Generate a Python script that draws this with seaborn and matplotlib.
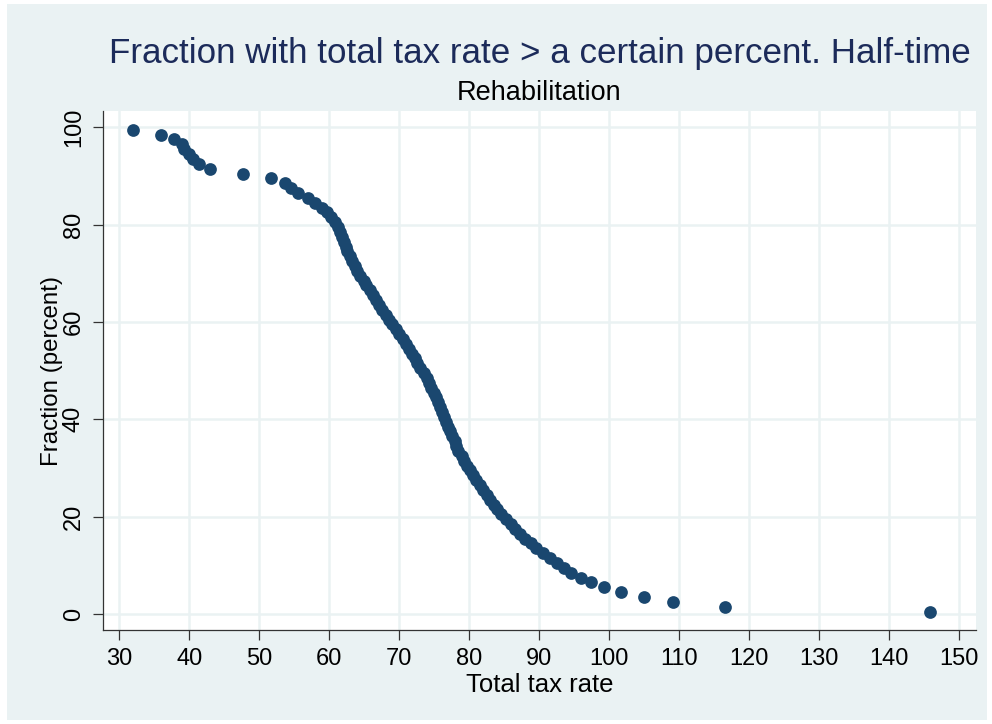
import numpy as np
import pandas as pd
import matplotlib
matplotlib.use("Agg")
import matplotlib.pyplot as plt
import seaborn as sns
from matplotlib.patches import Rectangle

# Fraction (percent) of cases with total tax rate above a given value
fraction = [99.5 - i for i in range(100)]
tax_rate = [
    32.0, 36.0, 37.8, 39.0, 39.3, 39.9, 40.6, 41.4, 43.0, 47.7,
    51.7, 53.7, 54.6, 55.6, 56.9, 58.0, 59.0, 59.7, 60.3, 60.8,
    61.2, 61.5, 61.8, 62.1, 62.4, 62.6, 62.9, 63.3, 63.7, 64.0,
    64.4, 64.9, 65.3, 65.8, 66.3, 66.7, 67.1, 67.6, 68.1, 68.6,
    69.0, 69.5, 70.0, 70.5, 71.0, 71.4, 71.8, 72.2, 72.6, 73.0,
    73.5, 73.9, 74.2, 74.5, 74.9, 75.2, 75.5, 75.8, 76.1, 76.4,
    76.7, 77.0, 77.3, 77.6, 77.9, 78.1, 78.4, 78.9, 79.3, 79.7,
    80.1, 80.6, 81.0, 81.5, 82.0, 82.5, 83.0, 83.5, 84.0, 84.6,
    85.3, 85.9, 86.6, 87.3, 88.0, 88.8, 89.6, 90.6, 91.6, 92.6,
    93.6, 94.6, 95.9, 97.4, 99.3, 101.7, 104.9, 109.1, 116.6, 145.8,
]
x_ticks = list(range(30, 151, 10))
y_ticks = [0, 20, 40, 60, 80, 100]

title = "Fraction with total tax rate > a certain percent. Half-time"
subtitle = "Rehabilitation"

bg = "#eaf2f3"
navy = "#1a476f"

df = pd.DataFrame({"tax_rate": tax_rate, "fraction": fraction})

sns.set_theme(style="white")
plt.rcParams["font.family"] = ["Liberation Sans", "DejaVu Sans"]

fig = plt.figure(figsize=(9.92, 7.24), dpi=100)
fig.patch.set_facecolor("white")
fig.patches.append(Rectangle((7 / 992, 4 / 724), 980 / 992, 716 / 724,
                             transform=fig.transFigure, facecolor=bg,
                             edgecolor="none", zorder=-10))

ax = fig.add_axes([0.1041, 0.1298, 0.8798, 0.7169])
ax.set_facecolor("white")

sns.scatterplot(data=df, x="tax_rate", y="fraction", ax=ax, color=navy,
                s=84, linewidth=0, zorder=3, legend=False)

ax.set_xlim(27.71, 152.39)
ax.set_ylim(-3.29, 103.35)
ax.set_xticks(x_ticks)
ax.set_yticks(y_ticks)
ax.grid(True, color=bg, linewidth=1.8)
ax.set_axisbelow(True)

for side in ["top", "right"]:
    ax.spines[side].set_visible(False)
for side in ["left", "bottom"]:
    ax.spines[side].set_color("#333333")
    ax.spines[side].set_linewidth(0.9)

ax.tick_params(axis="both", direction="out", length=7.2, width=0.9,
               color="#333333", labelsize=17, labelcolor="black", pad=6,
               left=True, bottom=True)
for lbl in ax.get_yticklabels():
    lbl.set_rotation(90)
    lbl.set_va("center")

ax.set_xlabel("Total tax rate", fontsize=18.5, color="black", labelpad=2)
ax.set_ylabel("Fraction (percent)", fontsize=17.4, color="black", labelpad=0)

fig.text(0.5439, 1 - 53 / 724, title, ha="center", va="center",
         fontsize=25.2, color="#1c2b5a")
fig.text(0.5439, 1 - 93 / 724, subtitle, ha="center", va="center",
         fontsize=19.5, color="black")

fig.savefig("out.png", dpi=100, facecolor=fig.get_facecolor())
